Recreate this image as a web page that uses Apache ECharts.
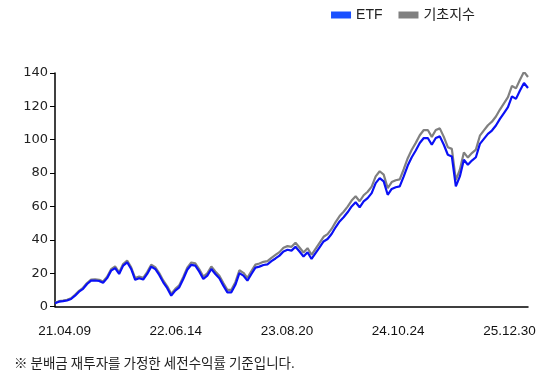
<!DOCTYPE html>
<html>
<head>
<meta charset="utf-8">
<script src="https://cdn.jsdelivr.net/npm/echarts@6/dist/echarts.min.js"></script>
<style>
html,body{margin:0;padding:0;background:#fff;}
#chart{width:554px;height:382px;}
</style>
</head>
<body>
<div id="chart"></div>
<script>
// Date tick labels shown on the x axis
var tickLabels = ['21.04.09', '22.06.14', '23.08.20', '24.10.24', '25.12.30'];
// Series names
var seriesNames = ['ETF', '기초지수'];
// ETF cumulative return (%), sampled evenly along the period
var etfValues = [
  2.0, 2.9, 3.2, 3.6, 4.5, 6.5, 8.9, 10.6, 13.5, 15.5,
  15.6, 15.3, 14.2, 17.0, 21.5, 23.0, 19.5, 24.5, 26.5, 22.5,
  16.0, 16.9, 16.2, 19.5, 23.9, 22.5, 18.9, 14.5, 11.0, 6.5,
  9.5, 11.5, 16.5, 22.0, 25.0, 24.5, 20.9, 16.5, 18.5, 22.5,
  19.5, 16.9, 12.5, 8.5, 8.5, 13.0, 20.0, 18.5, 15.5, 19.5,
  23.3, 23.9, 24.9, 25.3, 27.2, 28.8, 30.5, 33.0, 34.0, 33.5,
  35.8, 33.0, 30.0, 32.5, 28.5, 32.0, 35.5, 39.0, 40.5, 43.5,
  47.5, 51.0, 53.5, 56.5, 60.0, 62.5, 59.5, 63.0, 65.0, 68.0,
  74.0, 77.0, 75.0, 67.0, 70.5, 71.5, 72.0, 78.0, 84.5, 89.5,
  93.5, 98.0, 101.0, 101.0, 97.0, 101.0, 102.0, 97.0, 91.0, 90.0,
  72.0, 78.0, 88.0, 85.0, 87.5, 89.5, 97.5, 100.5, 103.5, 105.5,
  108.5, 112.5, 116.0, 119.5, 126.0, 124.5, 129.5, 134.0, 131.0
];
// Underlying index (기초지수) cumulative return (%)
var indexValues = [
  2.2, 3.2, 3.5, 4.0, 4.9, 7.0, 9.4, 11.2, 14.1, 16.2,
  16.3, 16.0, 15.0, 17.8, 22.4, 24.0, 20.4, 25.5, 27.6, 23.5,
  17.0, 17.9, 17.2, 20.6, 25.0, 23.6, 20.0, 15.6, 12.1, 7.6,
  10.6, 12.7, 17.7, 23.3, 26.4, 25.9, 22.3, 17.9, 19.9, 24.0,
  21.0, 18.4, 14.0, 10.0, 10.0, 14.6, 21.7, 20.2, 17.2, 21.3,
  25.1, 25.8, 26.8, 27.2, 29.2, 30.9, 32.6, 35.2, 36.2, 35.8,
  38.2, 35.4, 32.4, 35.0, 31.0, 34.6, 38.2, 41.8, 43.4, 46.5,
  50.6, 54.2, 56.8, 59.9, 63.5, 66.1, 63.1, 66.7, 68.8, 71.9,
  78.0, 81.1, 79.1, 71.0, 74.6, 75.7, 76.2, 82.3, 88.9, 94.0,
  98.1, 102.7, 105.8, 105.8, 101.7, 105.8, 106.8, 101.7, 95.5, 94.5,
  75.8, 82.0, 92.4, 89.3, 92.0, 94.1, 102.4, 105.6, 108.7, 110.8,
  113.9, 118.1, 121.8, 125.5, 132.3, 130.8, 136.0, 140.7, 137.6
];
// y axis ticks
var yMin = 0, yMax = 140, yStep = 20;

var footnote = '※ 분배금 재투자를 가정한 세전수익률 기준입니다.';

// label anchor positions along the sample index
var labelAt = [2.4, 30.1, 57.9, 85.6, 113.4];

var etfData = etfValues.map(function (v, i) { return [i, v]; });
var idxData = indexValues.map(function (v, i) { return [i, v]; });

var chart = echarts.init(document.getElementById('chart'), null, {renderer: 'canvas'});
chart.setOption({
  animation: false,
  backgroundColor: '#ffffff',
  grid: {left: 55, right: 26, top: 73, bottom: 75.5, containLabel: false},
  legend: {
    data: [
      {name: seriesNames[0], itemStyle: {color: '#1a50ff'}},
      {name: seriesNames[1], itemStyle: {color: '#808080'}}
    ],
    right: 74, top: 3,
    icon: 'rect', itemWidth: 20, itemHeight: 7, itemGap: 16, itemStyle: {},
    textStyle: {fontSize: 14, color: '#222', fontFamily: '"Liberation Sans","Noto Sans CJK KR",sans-serif'}
  },
  xAxis: {
    type: 'value',
    min: 0,
    max: etfValues.length - 1,
    splitLine: {show: false},
    axisLine: {show: true, onZero: false, lineStyle: {color: '#000', width: 1.5}},
    axisTick: {show: false},
    axisLabel: {
      customValues: labelAt,
      margin: 18,
      fontSize: 13.5,
      color: '#111',
      fontFamily: '"Liberation Sans",Arial,sans-serif',
      formatter: function (v) {
        var best = 0, d = Infinity;
        for (var k = 0; k < labelAt.length; k++) {
          var dd = Math.abs(labelAt[k] - v);
          if (dd < d) { d = dd; best = k; }
        }
        return tickLabels[best];
      }
    }
  },
  yAxis: {
    type: 'value',
    min: yMin, max: yMax, interval: yStep,
    splitLine: {show: false},
    axisLine: {show: true, lineStyle: {color: '#000', width: 1.5}},
    axisTick: {show: true, length: 5, lineStyle: {color: '#000', width: 1}},
    axisLabel: {margin: 7, fontSize: 13, color: '#222', fontFamily: '"DejaVu Sans",sans-serif'}
  },
  series: [
    {
      name: seriesNames[1], type: 'line', data: idxData, showSymbol: false, symbol: 'none',
      lineStyle: {color: '#808080', width: 2.2}, itemStyle: {color: '#808080'}, z: 2
    },
    {
      name: seriesNames[0], type: 'line', data: etfData, showSymbol: false, symbol: 'none',
      lineStyle: {color: '#0a10f5', width: 2.2}, itemStyle: {color: '#1a50ff'}, z: 3
    }
  ],
  graphic: [
    {
      type: 'text', left: 14, top: 356,
      style: {text: footnote, fontSize: 13.5, fill: '#222', fontFamily: '"Noto Sans CJK KR",sans-serif'}
    }
  ]
});
</script>
</body>
</html>
